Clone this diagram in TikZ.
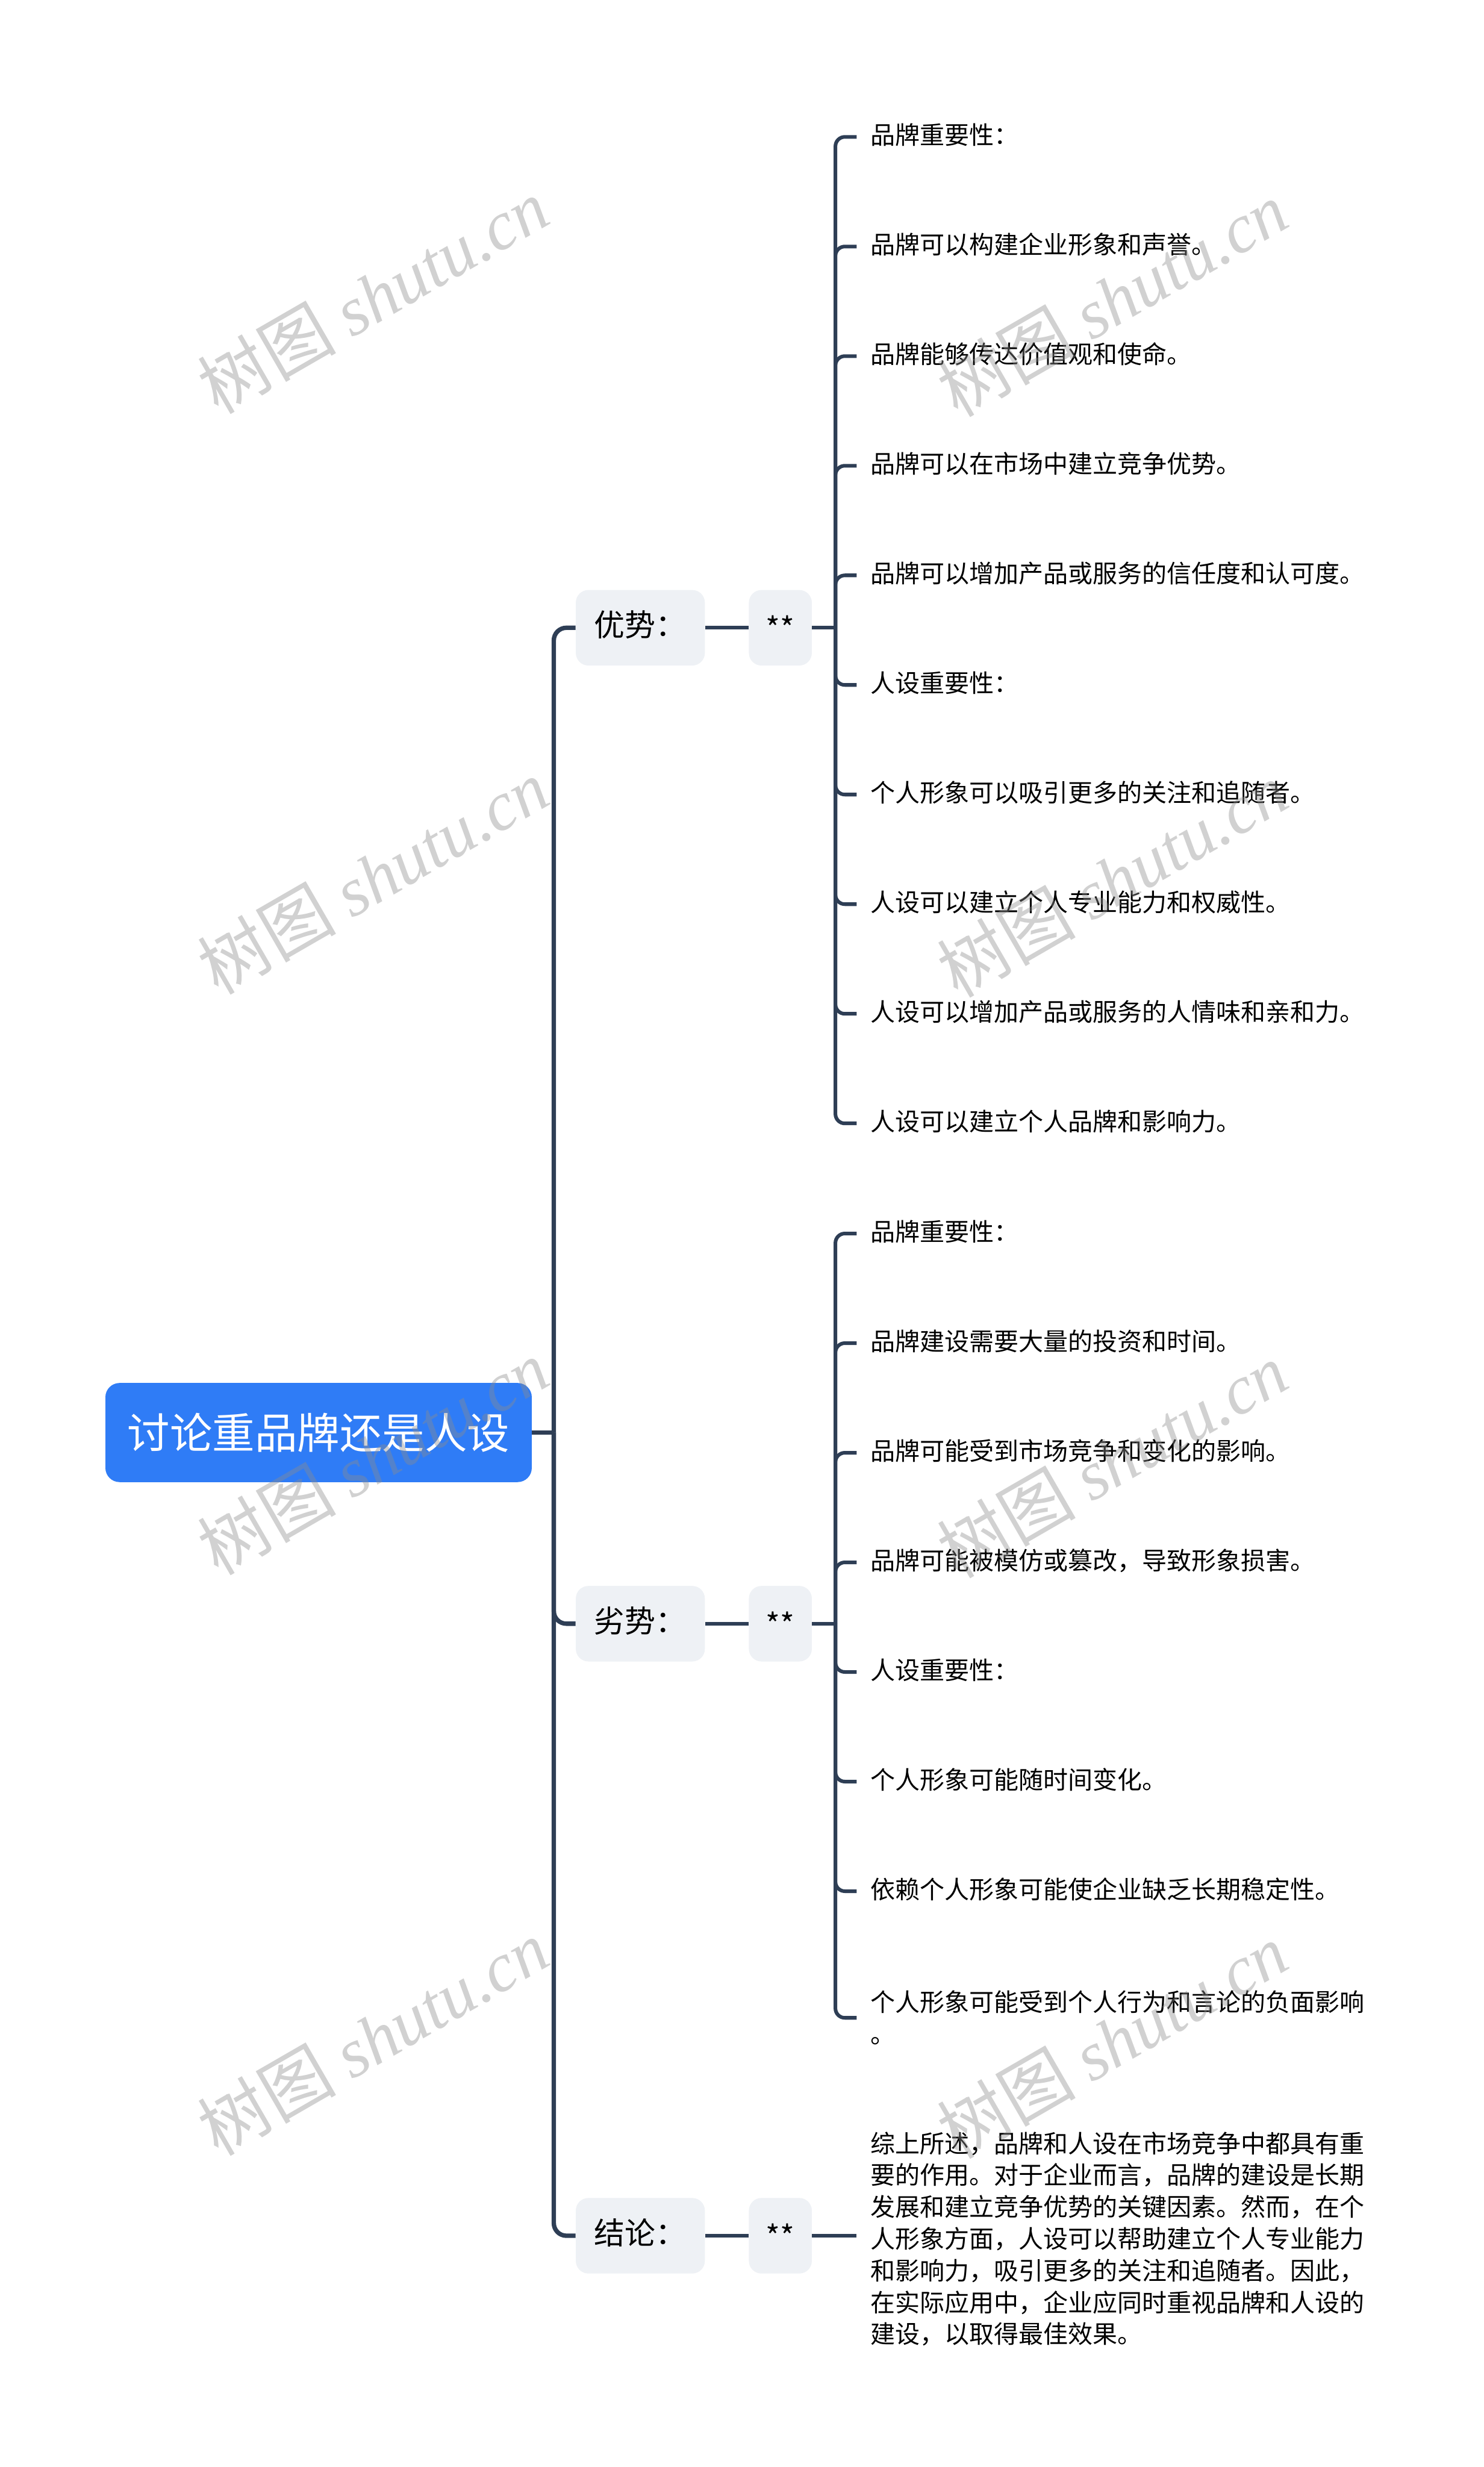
\documentclass[tikz,border=0pt]{standalone}
\usepackage{fontspec}
\setmainfont{Noto Sans CJK SC}
\newfontfamily\wmserif{Liberation Serif}
\newfontfamily\wmcjk{Noto Sans CJK SC}
\definecolor{linec}{HTML}{2E3E55}
\definecolor{rootc}{HTML}{2F7CF6}
\definecolor{boxc}{HTML}{EEF1F5}
\definecolor{wmc}{HTML}{8C8C8C}
\tikzset{
  rootbox/.style={fill=rootc, rounded corners=9pt, text=white, inner sep=0pt,
    minimum width=271pt, minimum height=63pt,
    font=\fontsize{27}{32}\selectfont},
  branchbox/.style={fill=boxc, rounded corners=8pt, inner sep=0pt,
    minimum width=82pt, minimum height=48pt, text=black,
    font=\fontsize{19.5}{24}\selectfont, text height=1.1em, text depth=0em},
  starbox/.style={fill=boxc, rounded corners=8pt, inner sep=0pt,
    minimum width=40pt, minimum height=48pt, text=black,
    font=\fontsize{19.5}{24}\selectfont},
  leaf/.style={anchor=west, inner ysep=0pt, inner xsep=0pt,
    text=black, font=\fontsize{15.7}{20.2}\selectfont},
  leafone/.style={leaf, text height=0.95em, text depth=0em},
  trunkline/.style={draw=linec, line width=2.8pt, rounded corners=8pt},
  twigline/.style={draw=linec, line width=2.3pt, rounded corners=6pt},
  wmark/.style={text=wmc, text opacity=0.4, rotate=30, inner sep=0pt}
}
\begin{document}
\begin{tikzpicture}[x=1pt, y=-1pt]
\path[use as bounding box, fill=white] (0,0) rectangle (943,1568);

% root and branches
\node[rootbox] (root) at (202.5,910.5) {讨论重品牌还是人设};
\coordinate (rj) at (352,910.5);

\node[branchbox] (b1) at (407,399) {优势：};
\node[branchbox] (b2) at (407,1032) {劣势：};
\node[branchbox] (b3) at (407,1421) {结论：};

\node[starbox] (s1) at (496,399) {**};
\node[starbox] (s2) at (496,1032) {**};
\node[starbox] (s3) at (496,1421) {**};

\coordinate (j1) at (531,399);
\coordinate (j2) at (531,1032);

% leaves of 优势
\foreach \i/\t in {0/品牌重要性：, 1/品牌可以构建企业形象和声誉。, 2/品牌能够传达价值观和使命。,
  3/品牌可以在市场中建立竞争优势。, 4/品牌可以增加产品或服务的信任度和认可度。,
  5/人设重要性：, 6/个人形象可以吸引更多的关注和追随者。, 7/人设可以建立个人专业能力和权威性。,
  8/人设可以增加产品或服务的人情味和亲和力。, 9/人设可以建立个人品牌和影响力。}{
  \node[leafone] (a\i) at (553, 87+69.67*\i) {\t};
}
% leaves of 劣势
\foreach \i/\t in {0/品牌重要性：, 1/品牌建设需要大量的投资和时间。, 2/品牌可能受到市场竞争和变化的影响。,
  3/品牌可能被模仿或篡改，导致形象损害。, 4/人设重要性：, 5/个人形象可能随时间变化。,
  6/依赖个人形象可能使企业缺乏长期稳定性。}{
  \node[leafone] (c\i) at (553, 784+69.67*\i) {\t};
}
\node[leaf, align=left] (c7) at (553,1282.5) {个人形象可能受到个人行为和言论的负面影响\\。};

% conclusion text
\node[leaf, align=left] (d0) at (553,1423) {综上所述，品牌和人设在市场竞争中都具有重\\要的作用。对于企业而言，品牌的建设是长期\\发展和建立竞争优势的关键因素。然而，在个\\人形象方面，人设可以帮助建立个人专业能力\\和影响力，吸引更多的关注和追随者。因此，\\在实际应用中，企业应同时重视品牌和人设的\\建设，以取得最佳效果。};

% connectors: root to branches
\draw[trunkline] (root.east) -- (rj);
\draw[trunkline] (rj) |- (b1.west);
\draw[trunkline] (rj) |- (b2.west);
\draw[trunkline] (rj) |- (b3.west);

% branch to star
\draw[twigline] (b1.east) -- (s1.west);
\draw[twigline] (b2.east) -- (s2.west);
\draw[twigline] (b3.east) -- (s3.west);

% star to leaves
\draw[twigline] (s1.east) -- (j1);
\foreach \i in {0,...,9}{
  \draw[twigline] (j1) |- ([xshift=-8.5pt]a\i.west);
}
\draw[twigline] (s2.east) -- (j2);
\foreach \i in {0,...,7}{
  \draw[twigline] (j2) |- ([xshift=-8.5pt]c\i.west);
}
\draw[twigline] (s3.east) -- ([xshift=-8.5pt]d0.west |- s3.east);

% watermarks
\foreach \n/\x/\y in {1/237/188, 2/237/557, 3/237/926, 4/237/1295,
                       5/707/190, 6/707/559, 7/707/928, 8/707/1297}{
  \node[wmark] (wm\n) at (\x,\y) {\wmcjk\fontsize{44}{48}\selectfont 树图 \wmserif\itshape shutu.cn};
}
\end{tikzpicture}
\end{document}
